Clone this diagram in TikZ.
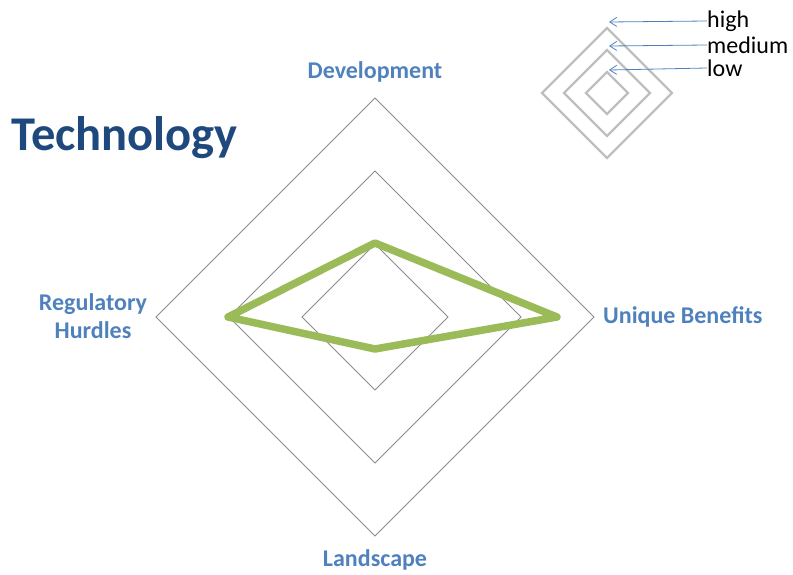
\documentclass[tikz,border=0pt]{standalone}
\usepackage{fontspec}
\setmainfont{Carlito}
\usetikzlibrary{arrows.meta}
\definecolor{axisblue}{RGB}{79,129,189}
\definecolor{titleblue}{RGB}{31,73,125}
\definecolor{scoregreen}{RGB}{155,187,89}
\begin{document}
\begin{tikzpicture}[x=1pt, y=-1pt,
    axislabel/.style={text=axisblue, font=\fontsize{24}{28.5}\selectfont\bfseries, align=center, inner sep=0pt},
    legendtext/.style={font=\fontsize{24}{24}\selectfont, anchor=west, inner sep=0pt},
    gridline/.style={draw=black!45, line width=0.8pt},
    legendring/.style={draw=black!25, line width=2.2pt},
    pointer/.style={-{Straight Barb[length=7pt, width=9pt]}, draw=axisblue, line width=0.8pt}]
    \useasboundingbox (0,0) rectangle (793,575);

    % title
    \node[text=titleblue, font=\fontsize{48.5}{48.5}\selectfont\bfseries, anchor=west, inner sep=0pt] (title) at (11,138) {Technology};

    % rings of the chart
    \draw[gridline] (375,98) -- (594,317) -- (375,536) -- (156,317) -- cycle;
    \draw[gridline] (375,171) -- (521,317) -- (375,463) -- (229,317) -- cycle;
    \draw[gridline] (375,244) -- (448,317) -- (375,390) -- (302,317) -- cycle;

    % scores
    \draw[draw=scoregreen, line width=7.5pt, line join=round] (375,243) -- (557,317) -- (375,349) -- (228,317) -- cycle;

    % axis labels
    \node[axislabel] (dev) at (375,72) {Development};
    \node[axislabel, anchor=west] (ben) at (603,317) {Unique Benefits};
    \node[axislabel] (land) at (375,560) {Landscape};
    \node[axislabel] (reg) at (93,316) {Regulatory\\Hurdles};

    % legend
    \draw[legendring] (607,28) -- (672,93) -- (607,158) -- (542,93) -- cycle;
    \draw[legendring] (607,50) -- (650,93) -- (607,136) -- (564,93) -- cycle;
    \draw[legendring] (607,72) -- (628,93) -- (607,114) -- (586,93) -- cycle;
    \node[legendtext] (high) at (707,21) {high};
    \node[legendtext] (medium) at (707,45) {medium};
    \node[legendtext] (low) at (707,68) {low};
    \coordinate (hightip) at (609,22);
    \coordinate (mediumtip) at (609,46);
    \coordinate (lowtip) at (609,70);
    \draw[pointer] (high.west) -- (hightip);
    \draw[pointer] (medium.west) -- (mediumtip);
    \draw[pointer] (low.west) -- (lowtip);
\end{tikzpicture}
\end{document}
